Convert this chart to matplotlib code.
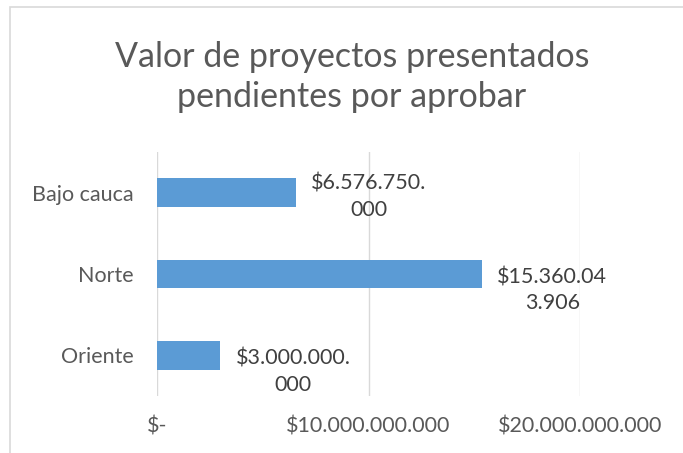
import matplotlib.pyplot as plt
from matplotlib.patches import Rectangle

# data
categories = ['Bajo cauca', 'Norte', 'Oriente']
values = [6576750000, 15360043906, 3000000000]
bar_labels = ['$6.576.750.\n000', '$15.360.04\n3.906', '$3.000.000.\n000']
xticks = [0, 10000000000, 20000000000]
xtick_labels = ['$-', '$10.000.000.000', '$20.000.000.000']

plt.rcParams['font.family'] = ['Lato', 'DejaVu Sans']
gray = '#595959'

fig = plt.figure(figsize=(6.83, 4.53), dpi=100)
W, H = 683, 453
ax = fig.add_axes([157 / W, 1 - 396 / H, (580 - 157) / W, (396 - 152) / H])

ypos = list(range(len(categories)))
ax.barh(ypos, values, height=0.35, color='#5B9BD5', zorder=3)

# excel nudged the top label upwards a bit
label_dy = [14, 5, 5]
for y, v, lab, dy in zip(ypos, values, bar_labels, label_dy):
    ax.annotate(lab, xy=(v, y), xytext=(11, dy), textcoords='offset points',
                ha='left', va='top', multialignment='center',
                fontsize=15.5, color='#404040', linespacing=1.4,
                annotation_clip=False)

ax.set_xlim(0, 20000000000)
ax.set_ylim(2.5, -0.5)
ax.set_xticks(xticks)
ax.set_xticklabels(xtick_labels, fontsize=15.5, color=gray)
ax.set_yticks(ypos)
ax.set_yticklabels(categories, fontsize=15.5, color=gray)
ax.tick_params(axis='both', length=0)
ax.tick_params(axis='x', pad=15)
ax.tick_params(axis='y', pad=17)
ax.grid(axis='x', color='#D9D9D9', linewidth=1, zorder=0)
for s in ax.spines.values():
    s.set_visible(False)

fig.text(352 / W, 1 - 77 / H, 'Valor de proyectos presentados\npendientes por aprobar',
         ha='center', va='center', fontsize=24.5, color=gray, linespacing=1.3)

# chart frame (only left and top edges visible in the crop)
fig.patches.append(Rectangle((10 / W, -0.1), 1.2, 1 - 7 / H + 0.1,
                             transform=fig.transFigure, fill=False,
                             edgecolor='#D9D9D9', linewidth=1.2))

fig.savefig('out.png', dpi=100)
